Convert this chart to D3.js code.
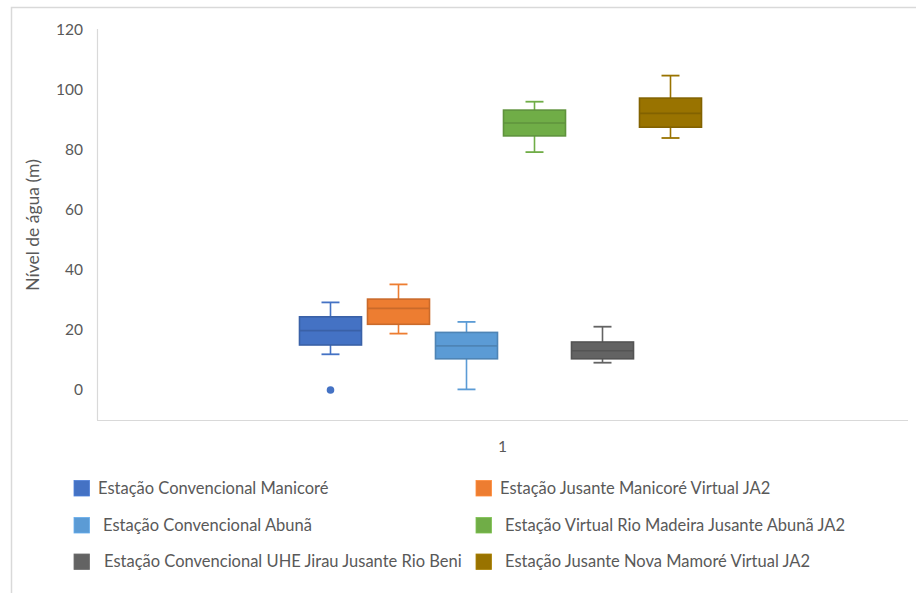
<!DOCTYPE html>
<html>
<head>
<meta charset="utf-8">
<script src="https://cdn.jsdelivr.net/npm/d3@7"></script>
<style>
  html, body { margin: 0; padding: 0; background: #fff; }
  svg { display: block; }
  text { font-family: Lato, "Open Sans", sans-serif; fill: #595959; }
</style>
</head>
<body>
<svg id="chart" width="916" height="593"></svg>
<script>
// Series names (legend order)
const seriesNames = [
  "Estação Convencional Manicoré",
  "Estação Jusante Manicoré Virtual JA2",
  "Estação Convencional Abunã",
  "Estação Virtual Rio Madeira Jusante Abunã JA2",
  "Estação Convencional UHE Jirau Jusante Rio Beni",
  "Estação Jusante Nova Mamoré Virtual JA2"
];
const seriesColors = ["#4472C4", "#ED7D31", "#5B9BD5", "#70AD47", "#636363", "#997300"];

// Five-number summaries per series (m)
const whiskerLow  = [11.9, 18.8,  0.2, 79.3,  9.1,  84.0];
const quartile1   = [15.0, 21.9, 10.4, 84.7, 10.4,  87.6];
const medians     = [19.8, 27.2, 14.7, 89.0, 13.1,  92.2];
const quartile3   = [24.4, 30.3, 19.2, 93.3, 16.0,  97.3];
const whiskerHigh = [29.2, 35.2, 22.7, 96.1, 21.1, 104.8];
// Outliers: [series index, value]
const outliers = [[0, 0]];

const categories = ["1"];
const yTicks = [0, 20, 40, 60, 80, 100, 120];
const yTitle = "Nível de água (m)";

const svg = d3.select("#chart");

// Outer chart frame
svg.append("path")
  .attr("d", "M11.5,593 V7.5 H916")
  .attr("fill", "none")
  .attr("stroke", "#d9d9d9")
  .attr("stroke-width", 1.5);

const plot = { left: 97, right: 908, top: 30, bottom: 420 };

const y = d3.scaleLinear().domain([-10, 120]).range([plot.bottom, plot.top]);
const xCat = d3.scaleBand().domain(categories).range([plot.left, plot.right]);

// Axes lines
const axisColor = "#d9d9d9";
svg.append("line")
  .attr("x1", plot.left + 0.5).attr("x2", plot.left + 0.5)
  .attr("y1", plot.top - 1).attr("y2", plot.bottom)
  .attr("stroke", axisColor).attr("stroke-width", 1.2);
svg.append("line")
  .attr("x1", plot.left).attr("x2", plot.right)
  .attr("y1", plot.bottom + 0.5).attr("y2", plot.bottom + 0.5)
  .attr("stroke", axisColor).attr("stroke-width", 1.2);

// Y tick labels
const yAxis = d3.axisLeft(y).tickValues(yTicks).tickSize(0).tickPadding(14);
const gy = svg.append("g").attr("transform", `translate(${plot.left},0)`).call(yAxis);
gy.select(".domain").remove();
gy.selectAll("text")
  .style("font-family", 'Lato, sans-serif')
  .style("font-size", "15.5px")
  .attr("fill", "#595959");

// Y title
svg.append("text")
  .attr("transform", `translate(39,${(y(120) + y(-10)) / 2}) rotate(-90)`)
  .attr("text-anchor", "middle")
  .style("font-size", "17.5px")
  .text(yTitle);

// X category label
svg.append("text")
  .attr("x", xCat("1") + xCat.bandwidth() / 2)
  .attr("y", 452)
  .attr("text-anchor", "middle")
  .style("font-size", "15.5px")
  .text(categories[0]);

// Series within the category
const groupWidth = 408;
const cx = xCat("1") + xCat.bandwidth() / 2 - 2;
const xSeries = d3.scaleBand()
  .domain(d3.range(seriesNames.length))
  .range([cx - groupWidth / 2, cx + groupWidth / 2])
  .paddingInner(0.088)
  .paddingOuter(0.044);

const bw = xSeries.bandwidth();
const capW = bw * 0.29;

const boxes = svg.append("g");
seriesNames.forEach((name, i) => {
  const c = seriesColors[i];
  const dark = d3.color(c).darker(0.45).formatHex();
  const x0 = xSeries(i);
  const xm = x0 + bw / 2;
  const g = boxes.append("g");
  // whiskers
  g.append("line").attr("x1", xm).attr("x2", xm)
    .attr("y1", y(whiskerHigh[i])).attr("y2", y(quartile3[i]))
    .attr("stroke", c).attr("stroke-width", 1.6);
  g.append("line").attr("x1", xm).attr("x2", xm)
    .attr("y1", y(quartile1[i])).attr("y2", y(whiskerLow[i]))
    .attr("stroke", c).attr("stroke-width", 1.6);
  [whiskerHigh[i], whiskerLow[i]].forEach(v => {
    g.append("line").attr("x1", xm - capW / 2).attr("x2", xm + capW / 2)
      .attr("y1", y(v)).attr("y2", y(v))
      .attr("stroke", c).attr("stroke-width", 1.8);
  });
  // box
  g.append("rect")
    .attr("x", x0).attr("width", bw)
    .attr("y", y(quartile3[i]))
    .attr("height", y(quartile1[i]) - y(quartile3[i]))
    .attr("fill", c).attr("stroke", dark).attr("stroke-width", 1.6);
  // median
  g.append("line").attr("x1", x0).attr("x2", x0 + bw)
    .attr("y1", y(medians[i])).attr("y2", y(medians[i]))
    .attr("stroke", dark).attr("stroke-width", 1.6);
});

// Outlier points
boxes.selectAll("circle.outlier").data(outliers).enter().append("circle")
  .attr("class", "outlier")
  .attr("cx", d => xSeries(d[0]) + bw / 2)
  .attr("cy", d => y(d[1]))
  .attr("r", 3.8)
  .attr("fill", d => seriesColors[d[0]]);

// Legend (two columns, three rows)
const legendCols = [74, 476];
const legendRows = [488, 525, 561.5];
const textDx = [[24, 24], [29, 29], [30, 29]];
const legend = svg.append("g");
seriesNames.forEach((name, i) => {
  const col = i % 2, row = Math.floor(i / 2);
  const lx = legendCols[col], ly = legendRows[row];
  legend.append("rect")
    .attr("x", lx).attr("y", ly - 7.5)
    .attr("width", 15.5).attr("height", 15.5)
    .attr("fill", seriesColors[i])
    .attr("stroke", d3.color(seriesColors[i]).brighter(0.3).formatHex())
    .attr("stroke-width", 0.8);
  legend.append("text")
    .attr("x", lx + textDx[row][col]).attr("y", ly)
    .attr("dy", "0.36em")
    .style("font-size", "16.5px")
    .text(name);
});
</script>
</body>
</html>
